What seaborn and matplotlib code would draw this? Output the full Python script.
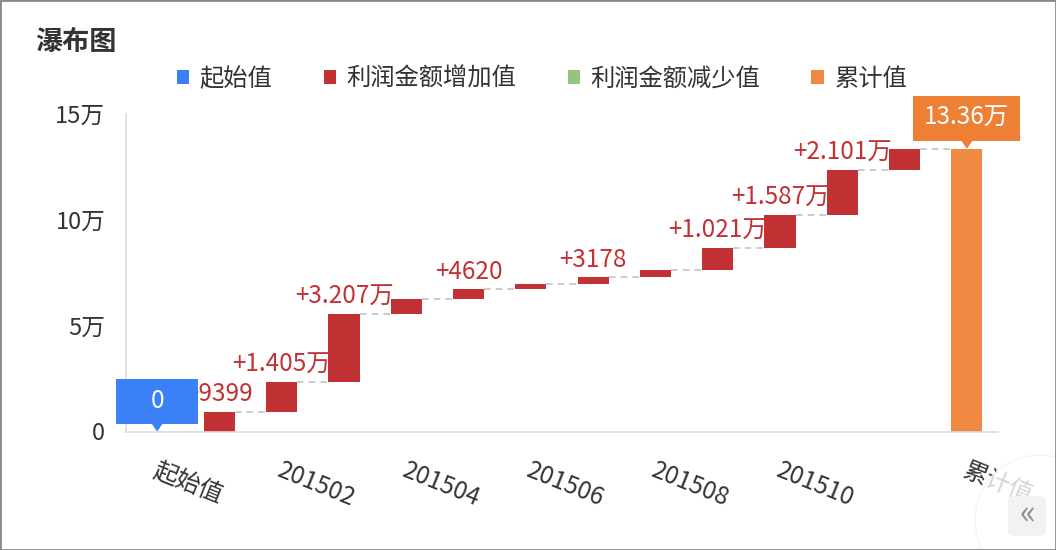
import numpy as np
import pandas as pd
import matplotlib
matplotlib.use("Agg")
import matplotlib.pyplot as plt
import matplotlib.patches as mpatches
import matplotlib.transforms as mtransforms
import seaborn as sns

# ---------------- data ----------------
categories = ["起始值", "201501", "201502", "201503", "201504", "201505", "201506",
              "201507", "201508", "201509", "201510", "201511", "201512", "累计值"]
start_value = 0
increases = [9399, 14050, 32070, 6990, 4620, 2610, 3178, 3500, 10210, 15870, 21010, 10093]
decreases = [0, 0, 0, 0, 0, 0, 0, 0, 0, 0, 0, 0]
legend_labels = ["起始值", "利润金额增加值", "利润金额减少值", "累计值"]
y_ticks = [0, 50000, 100000, 150000]
y_tick_labels = ["0", "5万", "10万", "15万"]
x_tick_labels = ["起始值", "", "201502", "", "201504", "", "201506", "",
                 "201508", "", "201510", "", "", "累计值"]
title = "瀑布图"

# ---------------- styling ----------------
BLUE = "#3b80f6"
RED = "#c23133"
GREEN = "#95c47e"
ORANGE = "#f08a42"
ORANGE_BOX = "#ee8036"
TXT = "#333333"
AXIS = "#dcdcdc"
FS = 17.5

sns.set_theme(style="white")
plt.rcParams["font.family"] = ["Noto Sans CJK SC", "DejaVu Sans"]

W, H = 1056, 550
fig = plt.figure(figsize=(W / 100, H / 100), dpi=100)
ax = fig.add_axes([126 / W, 118.5 / H, 872 / W, 317.5 / H])

# waterfall geometry derived from data
total = start_value + sum(increases) - sum(decreases)
heights = [start_value]
bases = [0]
level = start_value
for inc, dec in zip(increases, decreases):
    heights.append(inc if inc else dec)
    bases.append(level if inc else level - dec)
    level = level + inc - dec
heights.append(total)
bases.append(0)

df = pd.DataFrame({"cat": categories, "height": heights, "base": bases})
sns.barplot(data=df, x="cat", y="height", order=categories, bottom=df["base"].to_numpy(),
            color=RED, width=0.5, saturation=1, errorbar=None, linewidth=0, ax=ax)
bars = ax.patches
bars[0].set_facecolor(BLUE)
bars[-1].set_facecolor(ORANGE)
for i, (inc, dec) in enumerate(zip(increases, decreases)):
    if dec and not inc:
        bars[i + 1].set_facecolor(GREEN)

# connectors
tops = [b + h for b, h in zip(bases, heights)]
levels = [start_value]
lv = start_value
for inc, dec in zip(increases, decreases):
    lv = lv + inc - dec
    levels.append(lv)
for i in range(len(categories) - 1):
    ax.plot([i + 0.25, i + 0.75], [levels[i], levels[i]], color="#c4c4c4",
            ls=(0, (4, 3)), lw=1.2, zorder=0.5)

ax.set_xlim(-0.5, len(categories) - 0.5)
ax.set_ylim(0, 150000)
ax.set_yticks(y_ticks)
ax.set_yticklabels(y_tick_labels, fontsize=17, color=TXT)
ax.set_xticks(range(len(categories)))
ax.set_xticklabels(x_tick_labels, fontsize=FS, color=TXT, rotation=-22,
                   ha="left", va="top", rotation_mode="anchor")
ax.set_xlabel("")
ax.set_ylabel("")
ax.tick_params(axis="both", length=0)
ax.tick_params(axis="y", pad=15)
ax.tick_params(axis="x", pad=19)
shift = mtransforms.ScaledTranslation(2 / 100, 0, fig.dpi_scale_trans)
for lab in ax.get_xticklabels():
    lab.set_transform(lab.get_transform() + shift)
for s in ["top", "right"]:
    ax.spines[s].set_visible(False)
for s in ["left", "bottom"]:
    ax.spines[s].set_color(AXIS)
    ax.spines[s].set_linewidth(1.2)


def fmt(v):
    if abs(v) >= 10000:
        return f"{v / 10000:.4g}万"
    return f"{v:.0f}"


anns = []
for i, (inc, dec) in enumerate(zip(increases, decreases)):
    idx = i + 1
    txt = ("+" + fmt(inc)) if inc else ("-" + fmt(dec))
    a = ax.annotate(txt, xy=(idx, tops[idx]), xytext=(0, 3), textcoords="offset points",
                    ha="center", va="bottom", color=RED, fontsize=FS, zorder=3)
    anns.append(a)

fig.canvas.draw()
renderer = fig.canvas.get_renderer()
kept = []
for a in anns:
    bb = a.get_window_extent(renderer)
    if any(bb.overlaps(k) for k in kept):
        a.remove()
    else:
        kept.append(bb)

# callout boxes for start and total
inv = fig.transFigure.inverted()


def callout(idx, value, color, min_w):
    px, py = ax.transData.transform((idx, value))
    t = fig.text(0, 0, fmt(value), fontsize=FS, color="white", ha="center", va="center", zorder=6)
    tw = t.get_window_extent(renderer).width
    bw = max(tw + 22, min_w)
    bh = 45
    gap = 8
    x0, y0 = px - bw / 2, py + gap
    (fx0, fy0) = inv.transform((x0, y0))
    (fx1, fy1) = inv.transform((x0 + bw, y0 + bh))
    fig.patches.append(mpatches.Rectangle((fx0, fy0), fx1 - fx0, fy1 - fy0, transform=fig.transFigure,
                                          facecolor=color, edgecolor="none", zorder=5))
    tri = inv.transform([(px - 6, py + gap + 0.5), (px + 6, py + gap + 0.5), (px, py)])
    fig.patches.append(mpatches.Polygon(tri, closed=True, transform=fig.transFigure,
                                        facecolor=color, edgecolor="none", zorder=5))
    cx, cy = inv.transform((px, y0 + bh / 2))
    t.set_position((cx, cy))


callout(0, start_value, BLUE, 82)
callout(len(categories) - 1, total, ORANGE_BOX, 82)

# title and legend
fig.text(35 / W, 1 - 42 / H, title, fontsize=19.5, fontweight="bold", color=TXT, ha="left", va="center")
handles = [mpatches.Patch(facecolor=c, edgecolor="none") for c in [BLUE, RED, GREEN, ORANGE]]
leg = fig.legend(handles, legend_labels, loc="center", bbox_to_anchor=(542 / W, 1 - 79 / H),
                 ncol=4, frameon=False, fontsize=FS, handlelength=0.5, handleheight=0.5,
                 handletextpad=0.45, columnspacing=2.1, labelcolor=TXT)

# bottom-right UI widget
fig.patches.append(mpatches.Ellipse((1040 / W, 1 - 520 / H), 130 / W, 130 / H, transform=fig.transFigure,
                                    facecolor="white", edgecolor="#f2f2f2", alpha=0.8, zorder=7))
fig.patches.append(mpatches.FancyBboxPatch((1008 / W, 1 - 536 / H), 38 / W, 40 / H,
                                           boxstyle="round,pad=0,rounding_size=0.008",
                                           transform=fig.transFigure, facecolor="#f2f2f2",
                                           edgecolor="none", zorder=8))
fig.text(1027 / W, 1 - 515 / H, "«", fontsize=24, color="#8f8f8f", ha="center", va="center", zorder=9)

# outer border
fig.patches.append(mpatches.Rectangle((0, 0), 1, 1, transform=fig.transFigure, fill=False,
                                      edgecolor="#8a8a8a", linewidth=2, zorder=10))

fig.savefig("out.png", dpi=100)
